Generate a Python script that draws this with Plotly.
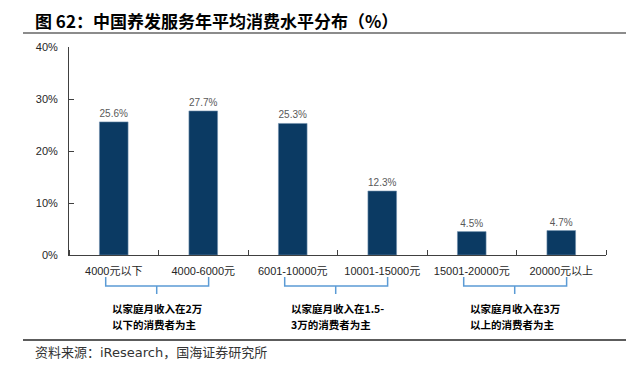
import plotly.graph_objects as go

categories = ["4000元以下", "4000-6000元", "6001-10000元", "10001-15000元", "15001-20000元", "20000元以上"]
values = [25.6, 27.7, 25.3, 12.3, 4.5, 4.7]
y_ticks = [0, 10, 20, 30, 40]
y_tick_labels = ["0%", "10%", "20%", "30%", "40%"]
group_line1 = ["以家庭月收入在2万", "以家庭月收入在1.5-", "以家庭月收入在3万"]
group_line2 = ["以下的消费者为主", "3万的消费者为主", "以上的消费者为主"]
group_centers = [0.5, 2.5, 4.5]
title_text = "图 62：中国养发服务年平均消费水平分布（%）"
source_text = "资料来源：iResearch，国海证券研究所"

# page body has an 8px default margin, so the figure is laid out in page pixels minus 8
OFF = 8
W, H = 618, 352
L, R, T, B = 69 - OFF, 20, 47 - OFF, 105


def ypaper(px):
    return (H - B - (px - OFF)) / (H - T - B)


def fx(px):
    return (px - OFF - L) / (W - L - R)


fig = go.Figure()
fig.add_trace(go.Bar(
    x=list(range(len(categories))), y=values,
    width=0.32,
    marker=dict(color="#0b3a63", line=dict(color="#6f8fad", width=0.6)),
    text=[f"{v:.1f}%" for v in values], textposition="outside",
    textfont=dict(family="Liberation Sans, Arial", size=10, color="#595959"),
    cliponaxis=False,
))

cfont = "Noto Sans CJK SC"
shapes = []
annotations = []
for c, l1, l2 in zip(group_centers, group_line1, group_line2):
    x0, x1, xm = c - 0.59, c + 0.56, c - 0.02
    yt, ym, yb = ypaper(277), ypaper(286), ypaper(294)
    path = f"M {x0},{yt} L {x0},{ym} L {x1},{ym} L {x1},{yt} M {xm},{ym} L {xm},{yb}"
    shapes.append(dict(type="path", xref="x", yref="paper", path=path,
                       line=dict(color="#5b9bd5", width=1.5)))
    for txt, ypx in ((l1, 308.5), (l2, 324.5)):
        annotations.append(dict(x=c - 0.54, y=ypaper(ypx), xref="x", yref="paper",
                                text=txt, showarrow=False, xanchor="left", yanchor="middle",
                                align="left",
                                font=dict(family=cfont, size=10.5, color="#000000", weight="bold")))

annotations.append(dict(x=fx(33), y=ypaper(20), xref="paper", yref="paper", text=title_text,
                        showarrow=False, xanchor="left", yanchor="middle",
                        font=dict(family=cfont, size=17, color="#000000", weight="bold")))
annotations.append(dict(x=fx(33), y=ypaper(352), xref="paper", yref="paper", text=source_text,
                        showarrow=False, xanchor="left", yanchor="middle",
                        font=dict(family="DejaVu Sans, Noto Sans CJK SC", size=13, color="#333333")))

shapes.append(dict(type="line", xref="paper", yref="paper", x0=fx(23), x1=fx(626),
                   y0=ypaper(33), y1=ypaper(33), line=dict(color="#8c8c8c", width=2)))
shapes.append(dict(type="line", xref="paper", yref="paper", x0=fx(23), x1=fx(626),
                   y0=ypaper(340), y1=ypaper(340), line=dict(color="#262626", width=1.5)))

fig.update_layout(
    width=W, height=H,
    margin=dict(l=L, r=R, t=T, b=B),
    plot_bgcolor="white", paper_bgcolor="white",
    showlegend=False,
    shapes=shapes, annotations=annotations,
    font=dict(family="Liberation Sans, Arial", size=11, color="#262626"),
)
fig.update_xaxes(
    type="linear", range=[-0.5, 5.5],
    tickmode="array", tickvals=list(range(len(categories))), ticktext=categories,
    showgrid=False, zeroline=False,
    showline=True, linecolor="#404040", linewidth=1,
    ticks="", tickfont=dict(family="Liberation Sans, Noto Sans CJK SC", size=11, color="#262626"),
    ticklabelstandoff=6,
    minor=dict(tickmode="array", tickvals=[-0.5 + i for i in range(7)],
               ticks="inside", ticklen=5, tickcolor="#404040", showgrid=False),
)
fig.update_yaxes(
    range=[0, 40], tickmode="array", tickvals=y_ticks, ticktext=y_tick_labels,
    showgrid=False, zeroline=False,
    showline=True, linecolor="#404040", linewidth=1,
    ticks="inside", ticklen=5, tickcolor="#404040",
    ticklabelstandoff=8,
    tickfont=dict(family="Liberation Sans, Arial", size=11, color="#262626"),
)

fig.write_html("out.html", config={"displayModeBar": False})
